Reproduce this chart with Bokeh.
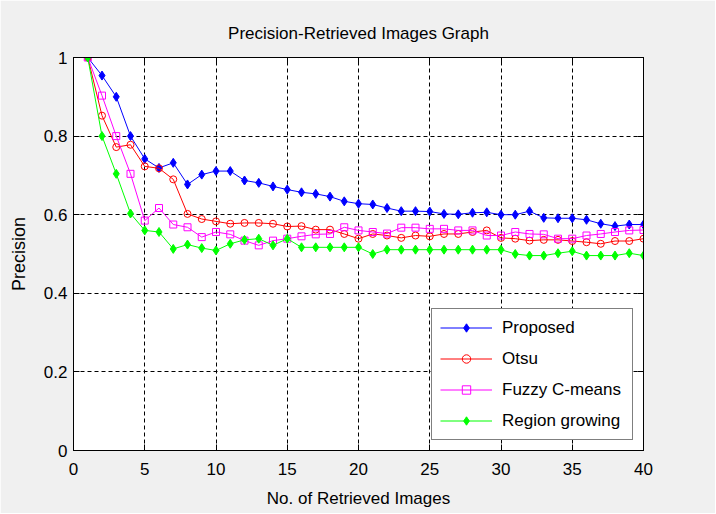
from bokeh.plotting import figure
from bokeh.models import LinearAxis, FixedTicker, Legend, LegendItem, Range1d
from bokeh.embed import file_html
from bokeh.resources import INLINE

# ---------------- data ----------------
retrieved = list(range(1, 41))

proposed = [1.000, 0.954, 0.900, 0.800, 0.742, 0.719, 0.732, 0.677, 0.702, 0.711,
            0.711, 0.687, 0.681, 0.672, 0.664, 0.657, 0.653, 0.646, 0.634, 0.628,
            0.626, 0.617, 0.609, 0.609, 0.608, 0.602, 0.601, 0.605, 0.606, 0.600,
            0.600, 0.609, 0.592, 0.591, 0.591, 0.587, 0.577, 0.571, 0.575, 0.575]

otsu = [1.000, 0.852, 0.772, 0.778, 0.723, 0.718, 0.690, 0.602, 0.589, 0.583,
        0.577, 0.579, 0.579, 0.577, 0.570, 0.571, 0.562, 0.562, 0.551, 0.539,
        0.551, 0.547, 0.541, 0.547, 0.545, 0.551, 0.551, 0.556, 0.560, 0.541,
        0.539, 0.534, 0.536, 0.536, 0.533, 0.530, 0.526, 0.533, 0.533, 0.539]

fuzzy = [1.000, 0.903, 0.800, 0.704, 0.585, 0.617, 0.575, 0.568, 0.543, 0.556,
         0.550, 0.534, 0.522, 0.534, 0.539, 0.545, 0.550, 0.551, 0.568, 0.560,
         0.556, 0.552, 0.567, 0.567, 0.564, 0.564, 0.560, 0.560, 0.547, 0.547,
         0.556, 0.551, 0.550, 0.539, 0.539, 0.547, 0.551, 0.556, 0.560, 0.561]

region = [1.000, 0.800, 0.704, 0.603, 0.560, 0.556, 0.513, 0.524, 0.515, 0.509,
          0.526, 0.536, 0.539, 0.522, 0.539, 0.517, 0.517, 0.517, 0.517, 0.517,
          0.500, 0.511, 0.511, 0.511, 0.511, 0.511, 0.511, 0.511, 0.511, 0.511,
          0.500, 0.496, 0.496, 0.502, 0.507, 0.496, 0.496, 0.496, 0.502, 0.496]

series_names = ["Proposed", "Otsu", "Fuzzy C-means", "Region growing"]
x_ticks = [0, 5, 10, 15, 20, 25, 30, 35, 40]
y_ticks = [0, 0.2, 0.4, 0.6, 0.8, 1]
y_tick_labels = ["0", "0.2", "0.4", "0.6", "0.8", "1"]

FONT = "Liberation Sans"
FS = "17px"

p = figure(frame_width=570, frame_height=393,
           x_range=Range1d(0, 40), y_range=Range1d(0, 1),
           output_backend="svg", toolbar_location=None,
           title="Precision-Retrieved Images Graph",
           x_axis_label="No. of Retrieved Images", y_axis_label="Precision",
           min_border_left=73, min_border_right=72,
           min_border_top=57, min_border_bottom=63)

p.border_fill_color = "#f0f0f0"
p.background_fill_color = "white"
p.outline_line_color = "black"
p.outline_line_width = 1

p.title.text_font = FONT
p.title.text_font_size = FS
p.title.text_font_style = "normal"
p.title.align = "center"
p.title.text_color = "black"
p.title.standoff = 29

for ax in (p.xaxis[0], p.yaxis[0]):
    ax.axis_label_text_font = FONT
    ax.axis_label_text_font_size = FS
    ax.axis_label_text_font_style = "normal"
    ax.axis_label_text_color = "black"
    ax.major_label_text_font = FONT
    ax.major_label_text_font_size = FS
    ax.major_label_text_color = "black"
    ax.major_tick_in = 6
    ax.major_tick_out = 0
    ax.minor_tick_in = 0
    ax.minor_tick_out = 0
    ax.axis_line_color = "black"
    ax.major_tick_line_color = "black"

p.yaxis.axis_label_text_font_size = "18px"
p.xaxis.ticker = FixedTicker(ticks=x_ticks)
p.yaxis.ticker = FixedTicker(ticks=y_ticks)
p.yaxis.major_label_overrides = {t: l for t, l in zip(y_ticks, y_tick_labels)}
p.xaxis.major_label_standoff = 12
p.yaxis.major_label_standoff = 6
p.xaxis.axis_label_standoff = 11
p.yaxis.axis_label_standoff = 12

# box axes (top/right) with inward ticks, no labels
top = LinearAxis(ticker=FixedTicker(ticks=x_ticks),
                 major_label_overrides={t: "" for t in x_ticks},
                 major_tick_in=6, major_tick_out=0, minor_tick_in=0, minor_tick_out=0,
                 axis_line_color="black", major_label_standoff=0)
right = LinearAxis(ticker=FixedTicker(ticks=y_ticks),
                   major_label_overrides={t: "" for t in y_ticks},
                   major_tick_in=6, major_tick_out=0, minor_tick_in=0, minor_tick_out=0,
                   axis_line_color="black", major_label_standoff=0)
p.add_layout(top, "above")
p.add_layout(right, "right")

for g in (p.xgrid[0], p.ygrid[0]):
    g.grid_line_color = "black"
    g.grid_line_dash = "4 3"
    g.grid_line_width = 1
p.xgrid.ticker = FixedTicker(ticks=x_ticks[1:-1])
p.ygrid.ticker = FixedTicker(ticks=y_ticks[1:-1])

items = []
# Proposed
l1 = p.line(retrieved, proposed, line_color="#0000ff", line_width=1)
m1 = p.scatter(retrieved, proposed, marker="diamond", size=9,
               line_color="#0000ff", fill_color="#0000ff")
items.append(LegendItem(label=series_names[0], renderers=[l1, m1]))
# Otsu
l2 = p.line(retrieved, otsu, line_color="#ff0000", line_width=1)
m2 = p.scatter(retrieved, otsu, marker="circle", size=7,
               line_color="#ff0000", fill_color=None)
items.append(LegendItem(label=series_names[1], renderers=[l2, m2]))
# Fuzzy
l3 = p.line(retrieved, fuzzy, line_color="#ff00ff", line_width=1)
m3 = p.scatter(retrieved, fuzzy, marker="square", size=7,
               line_color="#ff00ff", fill_color=None)
items.append(LegendItem(label=series_names[2], renderers=[l3, m3]))
# Region growing
l4 = p.line(retrieved, region, line_color="#00ff00", line_width=1)
m4 = p.scatter(retrieved, region, marker="diamond", size=9,
               line_color="#00ff00", fill_color="#00ff00")
items.append(LegendItem(label=series_names[3], renderers=[l4, m4]))

legend = Legend(items=items, location="bottom_right", margin=10,
                padding=8, spacing=10, glyph_height=21, label_height=21,
                glyph_width=52, label_standoff=10, label_width=122,
                border_line_color="black", border_line_width=1,
                background_fill_color="white", background_fill_alpha=1,
                label_text_font=FONT, label_text_font_size=FS,
                label_text_color="black")
p.add_layout(legend, "center")

open("out.html", "w").write(file_html(p, INLINE))
